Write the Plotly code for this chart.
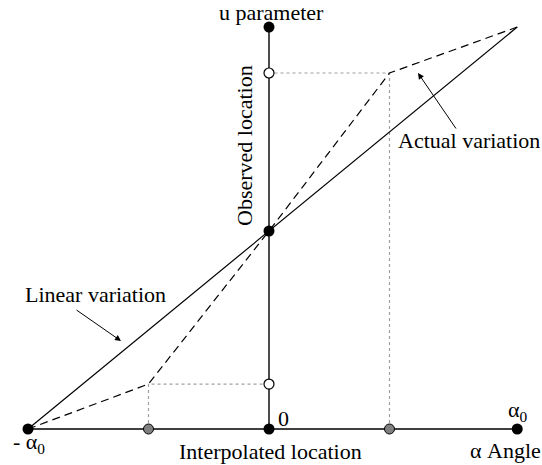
import plotly.graph_objects as go

# ---- data (alpha in units of alpha0, u in units of the center value) ----
alpha_nodes = [-1.0, -0.5, 0.0, 0.5, 1.03]      # -α0, interpolated, 0, interpolated, α0
actual_u = [0.0, 0.227, 1.0, 1.798, 2.03]       # actual (piecewise) variation
linear_alpha = [-1.0, 1.03]
linear_u = [0.0, 2.03]
u_top = 2.03
interp_alpha = [-0.5, 0.5]
interp_u = [0.227, 1.798]

# pixel -> data helpers (for placing labels only)
def X(px):
    return (px - 269) / 241.0

def Y(py):
    return (429 - py) / 198.0

W, H = 542, 465
fig = go.Figure()

# dotted projection lines
for a, u in zip(interp_alpha, interp_u):
    fig.add_trace(go.Scatter(x=[a, a, 0], y=[0, u, u], mode="lines",
                             line=dict(color="#a0a0a0", width=1.2, dash="dot"),
                             hoverinfo="skip"))

# axes lines
fig.add_trace(go.Scatter(x=[alpha_nodes[0], alpha_nodes[-1]], y=[0, 0], mode="lines",
                         line=dict(color="black", width=1.4), hoverinfo="skip"))
fig.add_trace(go.Scatter(x=[0, 0], y=[0, u_top], mode="lines",
                         line=dict(color="black", width=1.4), hoverinfo="skip"))

# linear variation
fig.add_trace(go.Scatter(x=linear_alpha, y=linear_u, mode="lines",
                         line=dict(color="black", width=1.2)))
# actual variation
fig.add_trace(go.Scatter(x=alpha_nodes, y=actual_u, mode="lines",
                         line=dict(color="black", width=1.2, dash="8px,5px")))

# markers
fig.add_trace(go.Scatter(x=[alpha_nodes[0], alpha_nodes[-1], 0, 0, 0],
                         y=[0, 0, 0, 1.0, u_top], mode="markers",
                         marker=dict(color="black", size=11, line=dict(width=0))))
fig.add_trace(go.Scatter(x=interp_alpha, y=[0, 0], mode="markers",
                         marker=dict(color="#808080", size=10, line=dict(color="black", width=1))))
fig.add_trace(go.Scatter(x=[0, 0], y=interp_u, mode="markers",
                         marker=dict(color="white", size=10, line=dict(color="black", width=1.2))))

font = dict(family="Liberation Serif, Times New Roman, serif", size=22, color="black")
ann = []
def label(text, px, py, xanchor="center", angle=0, size=22):
    f = dict(font)
    f["size"] = size
    ann.append(dict(x=X(px), y=Y(py), xref="x", yref="y", text=text, showarrow=False,
                    xanchor=xanchor, yanchor="middle", textangle=angle, font=f))

label("u parameter", 271, 12)
label("Observed location", 244, 146, angle=-90)
label("Actual variation", 469, 140)
label("Linear variation", 95, 294)
label("Interpolated location", 270, 451)
label("α Angle", 468, 450, xanchor="left")
label("α<sub>0</sub>", 518, 411)
label("- α<sub>0</sub>", 29, 443)
label("0", 283, 418)

def arrow(tx, ty, hx, hy):
    ann.append(dict(x=X(hx), y=Y(hy), ax=X(tx), ay=Y(ty), xref="x", yref="y",
                    axref="x", ayref="y", text="", showarrow=True, arrowhead=2,
                    arrowsize=1.2, arrowwidth=1, arrowcolor="black", standoff=0))

arrow(457, 130, 418, 73)
arrow(75, 309, 121, 341)

fig.update_layout(
    width=W, height=H, margin=dict(l=0, r=0, t=0, b=0),
    paper_bgcolor="white", plot_bgcolor="white", showlegend=False,
    xaxis=dict(visible=False, range=[X(0), X(W)], fixedrange=True),
    yaxis=dict(visible=False, range=[Y(H), Y(0)], fixedrange=True),
    annotations=ann,
)
fig.write_html("out.html",
               post_script="document.body.style.margin='0';document.body.style.overflow='hidden';",
               config={"displayModeBar": False})
